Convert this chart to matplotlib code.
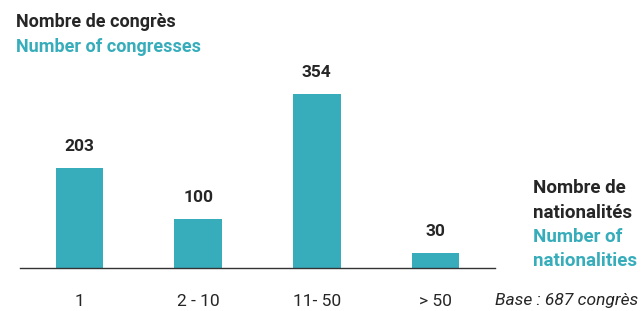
import matplotlib
matplotlib.use("Agg")
import matplotlib.pyplot as plt

categories = ["1", "2 - 10", "11- 50", "> 50"]
values = [203, 100, 354, 30]

TEAL = "#37adbb"
DARK = "#262626"

plt.rcParams['font.family'] = ['Roboto', 'DejaVu Sans']

fig = plt.figure(figsize=(6.43, 3.11), dpi=100)
W, H = 643, 311
ax = fig.add_axes([20 / W, 43 / H, (495 - 20) / W, (268 - 60) / H])
x = list(range(len(categories)))
ax.bar(x, values, width=0.40, color=TEAL)
ax.set_xlim(-0.5, 3.5)
ax.set_ylim(0, 423)
for s in ["top", "right", "left"]:
    ax.spines[s].set_visible(False)
ax.spines["bottom"].set_color("#333333")
ax.spines["bottom"].set_linewidth(1.0)
ax.set_yticks([])
ax.set_xticks(x)
ax.set_xticklabels(categories, fontsize=12.5, color=DARK, fontweight="normal")
ax.tick_params(axis="x", length=0, pad=19)
for xi, v in zip(x, values):
    ax.annotate(str(v), (xi, v), xytext=(0, 15.5), textcoords="offset points",
                ha="center", va="center", fontsize=12.5, fontweight="bold", color=DARK)

fig.text(16 / W, 1 - 22 / H, "Nombre de congrès", fontsize=13, fontweight="bold",
         color=DARK, va="center", ha="left")
fig.text(16 / W, 1 - 47 / H, "Number of congresses", fontsize=13, fontweight="bold",
         color=TEAL, va="center", ha="left")

lines = [("Nombre de", DARK), ("nationalités", DARK), ("Number of", TEAL), ("nationalities", TEAL)]
for i, (t, c) in enumerate(lines):
    fig.text(533 / W, 1 - (188 + 24.5 * i) / H, t, fontsize=13.5, fontweight="bold",
             color=c, va="center", ha="left")

fig.text(638 / W, 1 - 300 / H, "Base : 687 congrès", fontsize=12.5, style="italic",
         color=DARK, va="center", ha="right", fontweight="normal")

fig.savefig("out.png", dpi=100)
